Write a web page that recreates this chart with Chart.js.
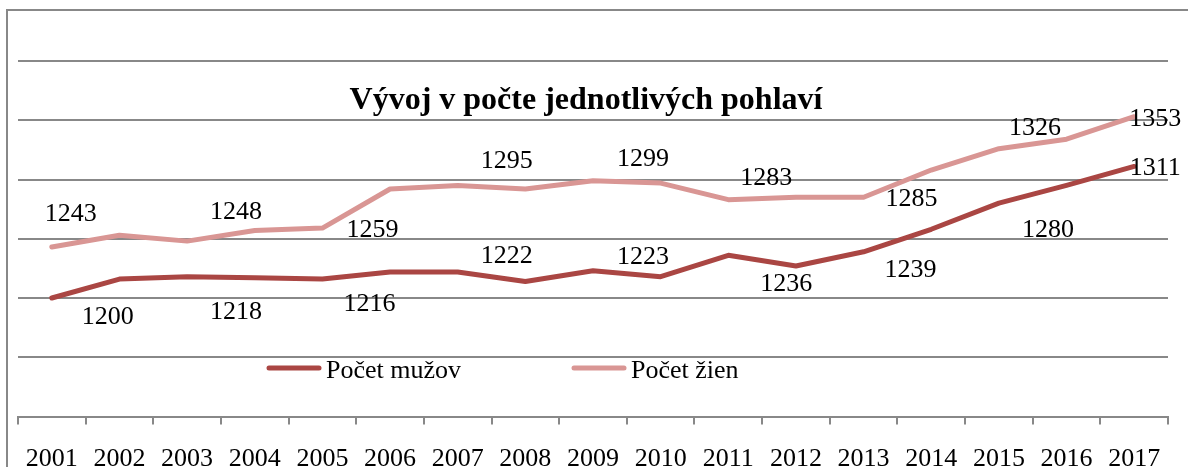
<!DOCTYPE html>
<html>
<head>
<meta charset="utf-8">
<script src="https://cdn.jsdelivr.net/npm/chart.js@4.4.1/dist/chart.umd.min.js"></script>
<style>
    html, body { margin: 0; padding: 0; background: #fff; overflow: hidden; }
    #wrap { width: 1188px; height: 467px; }
</style>
</head>
<body>
<div id="wrap"><canvas id="myChart" width="1188" height="467"></canvas></div>
<script>
const chartTitle = 'Vývoj v počte jednotlivých pohlaví'
const years = ['2001', '2002', '2003', '2004', '2005', '2006', '2007', '2008', '2009',
    '2010', '2011', '2012', '2013', '2014', '2015', '2016', '2017']
const men = [1200, 1216, 1218, 1217, 1216, 1222, 1222, 1214, 1223,
    1218, 1236, 1227, 1239, 1258, 1280, 1295, 1311]
const women = [1243, 1253, 1248, 1257, 1259, 1292, 1295, 1292, 1299,
    1297, 1283, 1285, 1285, 1308, 1326, 1334, 1353]
const seriesNames = ['Počet mužov', 'Počet žien']
const labelledYears = ['2001', '2003', '2005', '2007', '2009', '2011', '2013', '2015', '2017']
const yMin = 1100
const yMax = 1400
const yStep = 50

const menColor = '#AA4643'
const womenColor = '#D99694'
const gridColor = '#888888'
const serif = "'Liberation Serif', 'Times New Roman', serif"

// where each value label sits relative to its point (Excel placed them by hand)
const labelShift = [
    [[56, 19], [49, 36], [47, 25], [49, -16], [50, -14], [58, 29], [47, 18], [49, 27], [21, 2]],
    [[19, -33], [49, -29], [50, 2], [49, -24], [50, -22], [38, -21], [48, 2], [36, -21], [21, 2]]
]

const frame = {
    id: 'frame',
    beforeDraw(chart) {
        const c = chart.ctx
        c.save()
        c.strokeStyle = gridColor
        c.lineWidth = 2
        c.beginPath()
        c.moveTo(7, chart.height)
        c.lineTo(7, 10)
        c.lineTo(chart.width, 10)
        c.stroke()
        c.restore()
    }
}

const valueLabels = {
    id: 'valueLabels',
    afterDatasetsDraw(chart) {
        const c = chart.ctx
        c.save()
        c.font = '26px ' + serif
        c.fillStyle = '#000'
        c.textAlign = 'center'
        c.textBaseline = 'middle'
        chart.data.datasets.forEach((ds, d) => {
            const meta = chart.getDatasetMeta(d)
            labelledYears.forEach((yr, k) => {
                const i = years.indexOf(yr)
                const pt = meta.data[i]
                const [dx, dy] = labelShift[d][k]
                c.fillText(String(ds.data[i]), pt.x + dx, pt.y + dy)
            })
        })
        c.restore()
    }
}

const titleAndLegend = {
    id: 'titleAndLegend',
    afterDraw(chart) {
        const c = chart.ctx
        c.save()
        c.fillStyle = '#000'
        c.textBaseline = 'alphabetic'
        c.textAlign = 'center'
        c.font = 'bold 32px ' + serif
        c.fillText(chartTitle, 586, 109)

        const items = [
            { x: 267, color: menColor, text: seriesNames[0] },
            { x: 572, color: womenColor, text: seriesNames[1] }
        ]
        c.textAlign = 'left'
        c.font = '26px ' + serif
        items.forEach(it => {
            c.strokeStyle = it.color
            c.lineWidth = 5
            c.lineCap = 'round'
            c.beginPath()
            c.moveTo(it.x + 2, 368)
            c.lineTo(it.x + 52, 368)
            c.stroke()
            c.fillText(it.text, it.x + 59, 378)
        })
        c.restore()
    }
}

const ctx = document.getElementById('myChart')
new Chart(ctx, {
    type: 'line',
    data: {
        labels: years,
        datasets: [{
            label: seriesNames[0],
            data: men,
            borderColor: menColor,
            backgroundColor: menColor,
            borderWidth: 5,
            pointRadius: 0,
            tension: 0,
            borderJoinStyle: 'round',
            borderCapStyle: 'round'
        }, {
            label: seriesNames[1],
            data: women,
            borderColor: womenColor,
            backgroundColor: womenColor,
            borderWidth: 5,
            pointRadius: 0,
            tension: 0,
            borderJoinStyle: 'round',
            borderCapStyle: 'round'
        }]
    },
    options: {
        responsive: false,
        animation: false,
        devicePixelRatio: 1,
        layout: { padding: { top: 61, left: 18, right: 20, bottom: 0 } },
        plugins: {
            legend: { display: false },
            title: { display: false },
            tooltip: { enabled: false }
        },
        scales: {
            x: {
                offset: true,
                grid: {
                    offset: true,
                    drawOnChartArea: false,
                    drawTicks: true,
                    tickLength: 8,
                    color: gridColor,
                    lineWidth: 2
                },
                border: { color: gridColor, width: 2 },
                ticks: {
                    color: '#000',
                    font: { family: serif, size: 26 },
                    padding: 19,
                    maxRotation: 0,
                    autoSkip: false
                },
                afterFit: s => { s.height = 50.5 }
            },
            y: {
                min: yMin,
                max: yMax,
                ticks: { stepSize: yStep, display: false },
                grid: { color: gridColor, lineWidth: 2, drawTicks: false },
                border: { display: false },
                afterFit: s => { s.width = 0 }
            }
        }
    },
    plugins: [frame, valueLabels, titleAndLegend]
})
</script>
</body>
</html>
